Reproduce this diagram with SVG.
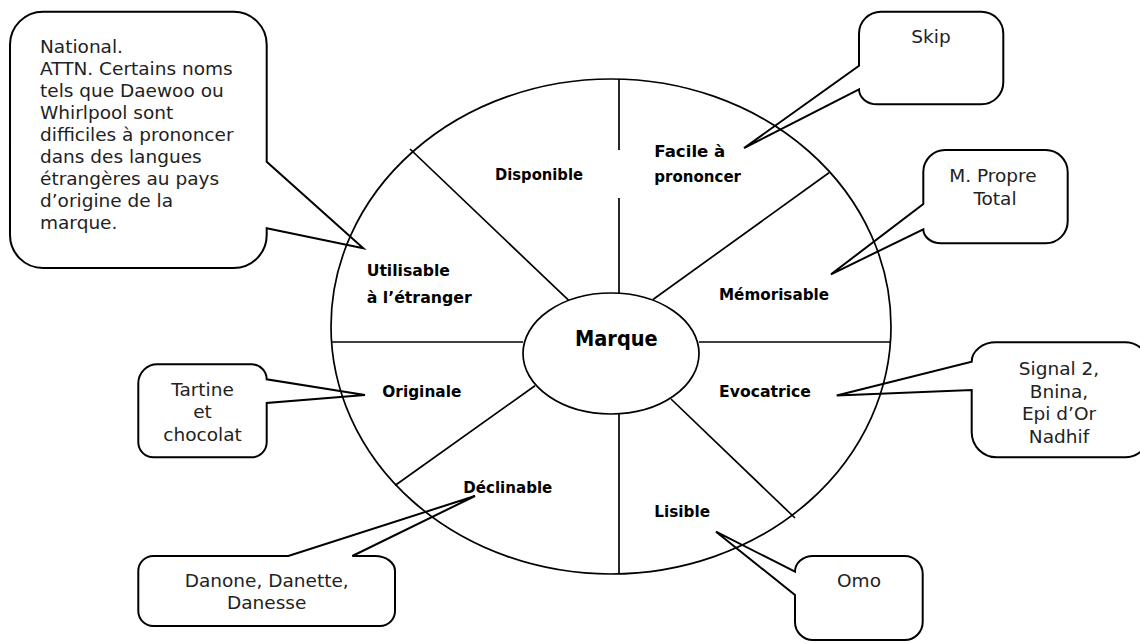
<svg xmlns="http://www.w3.org/2000/svg" width="1140" height="644" viewBox="0 0 1140 644">
<style>
.wheel{fill:none;stroke:#000;stroke-width:1.7}
.seg{stroke:#000;stroke-width:1.7;fill:none}
.call{fill:none;stroke:#000;stroke-width:2;stroke-linejoin:miter}
.lbl{font-family:"DejaVu Sans","Liberation Sans",sans-serif;font-weight:bold;font-size:16.5px;fill:#000}
.ct{font-family:"DejaVu Sans","Liberation Sans",sans-serif;font-size:18.5px;fill:#222}
</style>
<rect width="1140" height="644" fill="#fff"/>
<g id="wheel">
<ellipse class="wheel" cx="611" cy="326.5" rx="280" ry="247.5"/>
</g>
<g id="connectors">
<line class="seg" x1="619" y1="79" x2="619" y2="150"/>
<line class="seg" x1="619" y1="198" x2="619" y2="293.5"/>
<line class="seg" x1="619" y1="414" x2="619" y2="574"/>
<line class="seg" x1="331" y1="342" x2="523" y2="342"/>
<line class="seg" x1="699" y1="342" x2="891" y2="342"/>
<line class="seg" x1="410" y1="149" x2="569" y2="300.7"/>
<line class="seg" x1="829" y1="172.8" x2="653" y2="299.5"/>
<line class="seg" x1="535" y1="385.7" x2="395" y2="485.5"/>
<line class="seg" x1="671" y1="399" x2="795" y2="518"/>
</g>
<g id="marque">
<ellipse class="wheel" cx="611" cy="353.5" rx="88" ry="60.5"/>
<text class="lbl" x="575" y="345.7" style="font-size:21px" textLength="82.7" lengthAdjust="spacingAndGlyphs">Marque</text>
</g>
<g id="disponible"><text class="lbl" x="495" y="180" textLength="88" lengthAdjust="spacingAndGlyphs">Disponible</text></g>
<g id="facile"><text class="lbl" x="654.3" y="156.7" textLength="71" lengthAdjust="spacingAndGlyphs">Facile à</text><text class="lbl" x="654.3" y="181.7" textLength="86.7" lengthAdjust="spacingAndGlyphs">prononcer</text></g>
<g id="memorisable"><text class="lbl" x="719" y="300" textLength="110" lengthAdjust="spacingAndGlyphs">Mémorisable</text></g>
<g id="evocatrice"><text class="lbl" x="719" y="396.7" textLength="92" lengthAdjust="spacingAndGlyphs">Evocatrice</text></g>
<g id="utilisable"><text class="lbl" x="366.7" y="276" textLength="83.3" lengthAdjust="spacingAndGlyphs">Utilisable</text><text class="lbl" x="366.7" y="302.7" textLength="105" lengthAdjust="spacingAndGlyphs">à l’étranger</text></g>
<g id="originale"><text class="lbl" x="382.3" y="397.3" textLength="79" lengthAdjust="spacingAndGlyphs">Originale</text></g>
<g id="declinable"><text class="lbl" x="463.3" y="493.3" textLength="89" lengthAdjust="spacingAndGlyphs">Déclinable</text></g>
<g id="lisible"><text class="lbl" x="654.3" y="516.7" textLength="55.7" lengthAdjust="spacingAndGlyphs">Lisible</text></g>

<g id="callout-national">
<path class="call" d="M43,11.7 H233.7 A33,33 0 0 1 266.7,44.7 V161.7 L363.3,248.3 L266.7,228.3 V235 A33,33 0 0 1 233.7,268 H43 A33,33 0 0 1 10,235 V44.7 A33,33 0 0 1 43,11.7 Z"/>
<text class="ct" x="40" y="53.3">National.</text>
<text class="ct" x="40" y="75.2">ATTN. Certains noms</text>
<text class="ct" x="40" y="97.1">tels que Daewoo ou</text>
<text class="ct" x="40" y="119">Whirlpool sont</text>
<text class="ct" x="40" y="140.9">difficiles à prononcer</text>
<text class="ct" x="40" y="162.8">dans des langues</text>
<text class="ct" x="40" y="184.7">étrangères au pays</text>
<text class="ct" x="40" y="206.6">d’origine de la</text>
<text class="ct" x="40" y="228.5">marque.</text>
</g>
<g id="callout-skip">
<path class="call" d="M881,11.7 H981.3 A22,22 0 0 1 1003.3,33.7 V82.3 A22,22 0 0 1 981.3,104.3 H877 A18,15 0 0 1 859,89.3 L744,148 L859,65.7 V33.7 A22,22 0 0 1 881,11.7 Z"/>
<text class="ct" x="931" y="42.7" text-anchor="middle">Skip</text>
</g>
<g id="callout-propre">
<path class="call" d="M945,150 H1045.7 A22,22 0 0 1 1067.7,172 V221.3 A22,22 0 0 1 1045.7,243.3 H941 A18,14 0 0 1 923.3,229.3 L831,274.3 L923.3,204 V172 A22,22 0 0 1 945,150 Z"/>
<text class="ct" x="993" y="181.7" text-anchor="middle">M. Propre</text>
<text class="ct" x="995" y="204.5" text-anchor="middle">Total</text>
</g>
<g id="callout-signal">
<path class="call" d="M996,342.3 H1125 A25,25 0 0 1 1150,367.3 V432.3 A25,25 0 0 1 1125,457.3 H996.7 A25,25 0 0 1 971.7,432.3 V390 L836.7,395.5 L971.7,361.7 A24.3,19.4 0 0 1 996,342.3 Z"/>
<text class="ct" x="1059" y="375" text-anchor="middle">Signal 2,</text>
<text class="ct" x="1059" y="397.8" text-anchor="middle">Bnina,</text>
<text class="ct" x="1059" y="420.4" text-anchor="middle">Epi d’Or</text>
<text class="ct" x="1059" y="442.8" text-anchor="middle">Nadhif</text>
</g>
<g id="callout-omo">
<path class="call" d="M813,556 H904.7 A18,18 0 0 1 922.7,574 V622 A18,18 0 0 1 904.7,640 H813 A18,18 0 0 1 795,622 V595 L716,531.7 L795,571.7 A18,15.7 0 0 1 813,556 Z"/>
<text class="ct" x="859" y="587.3" text-anchor="middle">Omo</text>
</g>
<g id="callout-danone">
<path class="call" d="M153.3,556 H288.3 L475,496 L352.3,556 H375 A20,15 0 0 1 395,571 V611 A15,15 0 0 1 380,626 H153.3 A15,15 0 0 1 138.3,611 V571 A15,15 0 0 1 153.3,556 Z"/>
<text class="ct" x="266.7" y="586.7" text-anchor="middle">Danone, Danette,</text>
<text class="ct" x="266.7" y="609.3" text-anchor="middle">Danesse</text>
</g>
<g id="callout-tartine">
<path class="call" d="M157.3,364.3 H251.7 A15,15 0 0 1 266.7,379.3 L365,395 L266.7,403 V442.3 A15,15 0 0 1 251.7,457.3 H153.3 A15,15 0 0 1 138.3,442.3 V383.3 A19,19 0 0 1 157.3,364.3 Z"/>
<text class="ct" x="202.5" y="396" text-anchor="middle">Tartine</text>
<text class="ct" x="202.5" y="418.3" text-anchor="middle">et</text>
<text class="ct" x="202.5" y="440.7" text-anchor="middle">chocolat</text>
</g>
</svg>
